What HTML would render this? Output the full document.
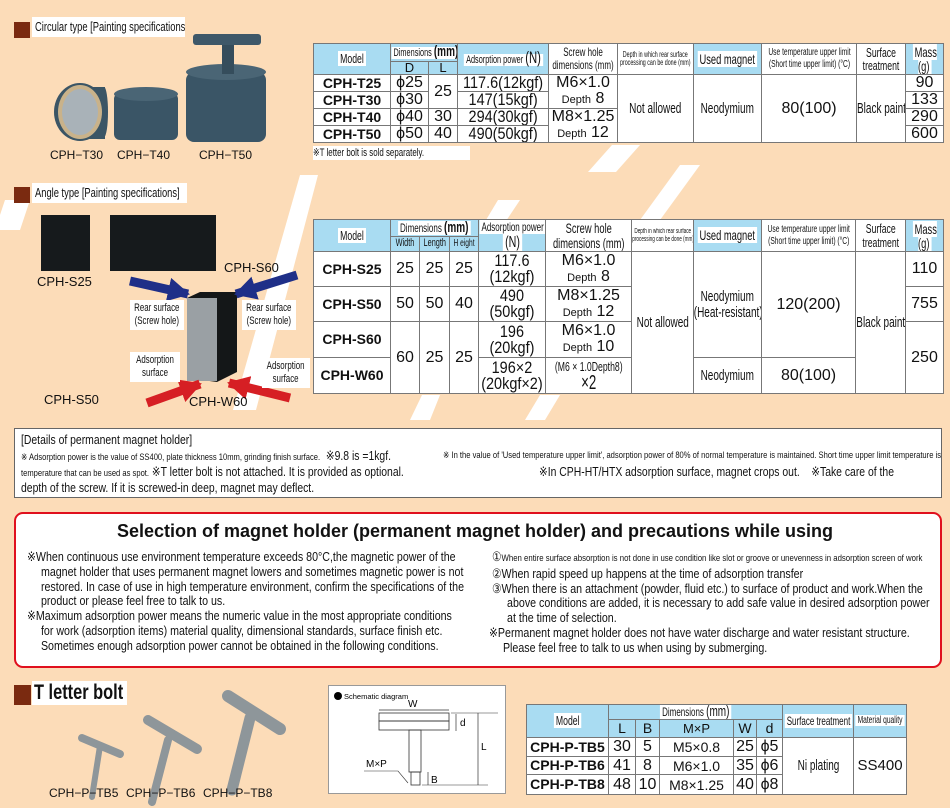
<!DOCTYPE html>
<html><head><meta charset="utf-8">
<style>
*{margin:0;padding:0;box-sizing:border-box}
body{width:950px;height:808px;background:#fcdcb8;position:relative;overflow:hidden;font-family:"Liberation Sans",sans-serif;color:#111}
.a{position:absolute;white-space:nowrap}
.sq{position:absolute;width:16px;height:16px;background:#7a2a10}
.lbl{position:absolute;background:#fff;height:20px;overflow:hidden}
.lbl span{position:absolute;left:3px;top:2px;font-size:13px;line-height:16px;white-space:nowrap;transform:scaleX(.72);transform-origin:0 0}
table{position:absolute;border-collapse:collapse;table-layout:fixed;background:#fff}
td{border:1px solid #777;text-align:center;vertical-align:middle;padding:0;white-space:nowrap;overflow:hidden;line-height:1.05}
td.h{background:#a9dcf2;font-size:11px}
.q{display:block;width:150%;margin-left:-25%;transform:scaleX(.6667)}
.r{display:block;width:118%;margin-left:-9%;transform:scaleX(.85);font-size:17px;line-height:16px}
.w{background:#fff;padding:0 3px}
.m{font-weight:bold;font-size:14px}
.n{font-size:16px;line-height:16px}
.cap{position:absolute;font-size:12px;white-space:nowrap}
.wl{position:absolute;background:#fff;text-align:center;overflow:hidden}
.wl span{display:block;font-size:11px;line-height:13px;width:140%;margin-left:-20%;transform:scaleX(.72)}
.sx{position:absolute;white-space:nowrap;transform-origin:0 0}
</style></head><body>
<svg class="a" style="left:0;top:0" width="950" height="808">
<defs>
<marker id="hb" markerUnits="userSpaceOnUse" markerWidth="24" markerHeight="24" refX="20" refY="12" orient="auto"><polygon points="0,0 22,12 0,24" fill="#1f2f88"/></marker>
<marker id="hr" markerUnits="userSpaceOnUse" markerWidth="24" markerHeight="24" refX="20" refY="12" orient="auto"><polygon points="0,0 22,12 0,24" fill="#d61f24"/></marker>
</defs>
<g fill="#fff">
<polygon points="318,175 300,175 233,410 256,410"/>
<polygon points="520,200 498,200 480,230 500,230"/>
<polygon points="640,145 612,145 588,172 616,172"/>
<polygon points="440,395 422,395 410,420 430,420"/>
<polygon points="700,165 680,165 640,220 660,220"/>
<polygon points="560,395 540,395 525,420 545,420"/>
<polygon points="30,200 5,200 0,215 0,230 20,230"/>
</g>
<ellipse cx="80" cy="112" rx="26" ry="29" fill="#3b5565"/>
<rect x="80" y="87" width="25" height="52" fill="#3b5565"/>
<ellipse cx="104" cy="112" rx="4" ry="25" fill="#3b5565"/>
<ellipse cx="80" cy="112" rx="22" ry="27" fill="#c9b28a"/>
<ellipse cx="80" cy="112" rx="18" ry="23" fill="#a9b2b8"/>
<rect x="114" y="93" width="64" height="47" rx="6" fill="#3a5566"/>
<ellipse cx="146" cy="94" rx="32" ry="7" fill="#4a6575"/>
<rect x="186" y="72" width="80" height="70" rx="8" fill="#3a5566"/>
<ellipse cx="226" cy="72" rx="40" ry="8" fill="#4a6575"/>
<rect x="222" y="42" width="12" height="32" fill="#354d5c"/>
<rect x="193" y="34" width="68" height="11" rx="3" fill="#3e5869"/>
<rect x="41" y="215" width="49" height="56" fill="#161a1c"/>
<rect x="110" y="215" width="106" height="56" fill="#161a1c"/>
<polygon points="187,298 200,292 237,292 237,372 217,382 187,378" fill="#141718"/>
<rect x="187" y="298" width="30" height="83" fill="#9aa0a4"/>
<line x1="130" y1="281" x2="188" y2="294" stroke="#1f2f88" stroke-width="9" marker-end="url(#hb)"/>
<line x1="297" y1="275" x2="236" y2="294" stroke="#1f2f88" stroke-width="9" marker-end="url(#hb)"/>
<line x1="147" y1="403" x2="200" y2="384" stroke="#d61f24" stroke-width="9" marker-end="url(#hr)"/>
<line x1="290" y1="398" x2="229" y2="383" stroke="#d61f24" stroke-width="9" marker-end="url(#hr)"/>
<g stroke-linecap="round" stroke="#8e969a">
<line x1="82" y1="738" x2="120" y2="754" stroke-width="8"/>
<line x1="100" y1="746" x2="92" y2="797" stroke-width="6"/>
<line x1="148" y1="720" x2="197" y2="749" stroke-width="10"/>
<line x1="168" y1="740" x2="152" y2="802" stroke-width="8"/>
<line x1="228" y1="696" x2="280" y2="729" stroke-width="12"/>
<line x1="250" y1="718" x2="232" y2="790" stroke-width="11"/>
</g>
</svg>

<div class="sq" style="left:14px;top:22px"></div>
<div class="lbl" style="left:32px;top:17px;width:153px"><span>Circular type [Painting specifications]</span></div>
<div class="cap" style="left:50px;top:148px">CPH−T30</div>
<div class="cap" style="left:117px;top:148px">CPH−T40</div>
<div class="cap" style="left:199px;top:148px">CPH−T50</div>

<div class="sq" style="left:14px;top:187px"></div>
<div class="lbl" style="left:32px;top:183px;width:155px"><span>Angle type [Painting specifications]</span></div>
<div class="cap" style="left:37px;top:274px;font-size:13px">CPH-S25</div>
<div class="cap" style="left:224px;top:260px;font-size:13px">CPH-S60</div>
<div class="cap" style="left:44px;top:392px;font-size:13px">CPH-S50</div>
<div class="cap" style="left:189px;top:394px;font-size:13px">CPH-W60</div>
<div class="wl" style="left:130px;top:300px;width:54px;height:30px;padding-top:2px"><span>Rear surface<br>(Screw hole)</span></div>
<div class="wl" style="left:242px;top:300px;width:54px;height:30px;padding-top:2px"><span>Rear surface<br>(Screw hole)</span></div>
<div class="wl" style="left:130px;top:352px;width:50px;height:30px;padding-top:2px"><span>Adsorption<br>surface</span></div>
<div class="wl" style="left:262px;top:358px;width:48px;height:30px;padding-top:2px"><span>Adsorption<br>surface</span></div>

<!-- Table 1 -->
<table style="left:313px;top:43px;width:630px">
<colgroup><col style="width:77px"><col style="width:38px"><col style="width:29px"><col style="width:91px"><col style="width:69px"><col style="width:76px"><col style="width:68px"><col style="width:95px"><col style="width:49px"><col style="width:38px"></colgroup>
<tr style="height:18px"><td class="h" rowspan="2" style="font-size:13px"><span class="q"><span class="w">Model</span></span></td><td class="h" colspan="2"><span class="q" style="font-size:11px;line-height:14px"><span class="w">Dimensions <b style="font-size:15px">(mm)</b></span></span></td><td class="h" rowspan="2"><span class="q" style="font-size:11px;line-height:16px"><span class="w">Adsorption power <span style="font-size:17px">(N)</span></span></span></td><td class="h" rowspan="2" style="background:#fff"><span class="q" style="font-size:12px;line-height:13px">Screw hole<br>dimensions (mm)</span></td><td class="h" rowspan="2" style="background:#fff"><span class="q" style="font-size:8px">Depth in which rear surface<br>processing can be done (mm)</span></td><td class="h" rowspan="2"><span class="q" style="font-size:14px"><span class="w">Used magnet</span></span></td><td class="h" rowspan="2" style="background:#fff"><span class="q" style="font-size:10px;line-height:12px">Use temperature upper limit<br>(Short time upper limit) (°C)</span></td><td class="h" rowspan="2" style="background:#fff"><span class="q" style="font-size:13px;line-height:13px">Surface<br>treatment</span></td><td class="h" rowspan="2"><span class="q" style="font-size:14px;line-height:14px"><span class="w">Mass<br>(g)</span></span></td></tr>
<tr style="height:13px"><td class="h" style="font-size:13px;line-height:12px">D</td><td class="h" style="font-size:13px;line-height:12px">L</td></tr>
<tr style="height:17px"><td class="m">CPH-T25</td><td class="n">ϕ25</td><td class="n" rowspan="2">25</td><td><span class="r">117.6(12kgf)</span></td><td class="n" rowspan="2" style="line-height:16px">M6×1.0<br><span style="font-size:11px">Depth</span> 8</td><td rowspan="4"><span class="q" style="font-size:15px">Not allowed</span></td><td rowspan="4"><span class="q" style="font-size:15px">Neodymium</span></td><td class="n" rowspan="4">80(100)</td><td rowspan="4"><span class="q" style="font-size:15px">Black paint</span></td><td class="n">90</td></tr>
<tr style="height:17px"><td class="m">CPH-T30</td><td class="n">ϕ30</td><td><span class="r">147(15kgf)</span></td><td class="n">133</td></tr>
<tr style="height:17px"><td class="m">CPH-T40</td><td class="n">ϕ40</td><td class="n">30</td><td><span class="r">294(30kgf)</span></td><td class="n" rowspan="2" style="line-height:16px">M8×1.25<br><span style="font-size:11px">Depth</span> 12</td><td class="n">290</td></tr>
<tr style="height:17px"><td class="m">CPH-T50</td><td class="n">ϕ50</td><td class="n">40</td><td><span class="r">490(50kgf)</span></td><td class="n">600</td></tr>
</table>
<div class="a" style="left:313px;top:146px;width:157px;height:14px;background:#fff;overflow:hidden"><span class="sx" style="left:0;top:0;font-size:11px;transform:scaleX(.72)">※T letter bolt is sold separately.</span></div>

<!-- Table 2 -->
<table style="left:313px;top:219px;width:630px">
<colgroup><col style="width:77px"><col style="width:29px"><col style="width:30px"><col style="width:29px"><col style="width:67px"><col style="width:86px"><col style="width:62px"><col style="width:68px"><col style="width:94px"><col style="width:50px"><col style="width:38px"></colgroup>
<tr style="height:16px"><td class="h" rowspan="2" style="font-size:13px"><span class="q"><span class="w">Model</span></span></td><td class="h" colspan="3"><span class="q" style="font-size:12px;line-height:14px"><span class="w">Dimensions <b style="font-size:15px">(mm)</b></span></span></td><td class="h" rowspan="2"><span class="q" style="font-size:12px;line-height:15px"><span class="w">Adsorption power</span><br><span class="w" style="font-size:16px">(N)</span></span></td><td class="h" rowspan="2" style="background:#fff"><span class="q" style="font-size:14px;line-height:15px">Screw hole<br>dimensions (mm)</span></td><td class="h" rowspan="2" style="background:#fff"><span class="q" style="font-size:7px">Depth in which rear surface<br>processing can be done (mm)</span></td><td class="h" rowspan="2"><span class="q" style="font-size:14px"><span class="w">Used magnet</span></span></td><td class="h" rowspan="2" style="background:#fff"><span class="q" style="font-size:10px;line-height:12px">Use temperature upper limit<br>(Short time upper limit) (°C)</span></td><td class="h" rowspan="2" style="background:#fff"><span class="q" style="font-size:13px;line-height:14px">Surface<br>treatment</span></td><td class="h" rowspan="2"><span class="q" style="font-size:14px;line-height:14px"><span class="w">Mass<br>(g)</span></span></td></tr>
<tr style="height:15px"><td class="h"><span class="q" style="font-size:11px;line-height:13px">Width</span></td><td class="h"><span class="q" style="font-size:11px;line-height:13px">Length</span></td><td class="h"><span class="q" style="font-size:10px;line-height:13px">H eight</span></td></tr>
<tr style="height:35px"><td class="m">CPH-S25</td><td class="n">25</td><td class="n">25</td><td class="n">25</td><td><span class="r">117.6<br>(12kgf)</span></td><td class="n">M6×1.0<br><span style="font-size:11px">Depth</span> 8</td><td rowspan="4"><span class="q" style="font-size:15px">Not allowed</span></td><td rowspan="3"><span class="q" style="font-size:15px">Neodymium<br>(Heat-resistant)</span></td><td class="n" rowspan="3">120(200)</td><td rowspan="4"><span class="q" style="font-size:15px">Black paint</span></td><td class="n">110</td></tr>
<tr style="height:35px"><td class="m">CPH-S50</td><td class="n">50</td><td class="n">50</td><td class="n">40</td><td><span class="r">490<br>(50kgf)</span></td><td class="n">M8×1.25<br><span style="font-size:11px">Depth</span> 12</td><td class="n">755</td></tr>
<tr style="height:36px"><td class="m">CPH-S60</td><td class="n" rowspan="2">60</td><td class="n" rowspan="2">25</td><td class="n" rowspan="2">25</td><td><span class="r">196<br>(20kgf)</span></td><td class="n">M6×1.0<br><span style="font-size:11px">Depth</span> 10</td><td class="n" rowspan="2">250</td></tr>
<tr style="height:36px"><td class="m">CPH-W60</td><td><span class="r">196×2<br>(20kgf×2)</span></td><td style="line-height:16px"><span class="q" style="font-size:13px;line-height:16px">(M6 × 1.0Depth8)<br><span style="font-size:20px">×2</span></span></td><td><span class="q" style="font-size:15px">Neodymium</span></td><td class="n">80(100)</td></tr>
</table>

<!-- Details -->
<div class="a" style="left:14px;top:428px;width:928px;height:70px;background:#fff;border:1px solid #666;overflow:hidden">
<span class="sx" style="left:6px;top:3px;font-size:13px;transform:scaleX(.8)">[Details of permanent magnet holder]</span>
<span class="sx" style="left:6px;top:19px;font-size:13px;transform:scaleX(.8)"><span style="font-size:9.5px">※ Adsorption power is the value of SS400, plate thickness 10mm, grinding finish surface.</span>&nbsp; ※9.8 is =1kgf.</span>
<span class="sx" style="left:428px;top:21px;font-size:9.5px;transform:scaleX(.8)">※ In the value of 'Used temperature upper limit', adsorption power of 80% of normal temperature is maintained. Short time upper limit temperature is the</span>
<span class="sx" style="left:6px;top:35px;font-size:13px;transform:scaleX(.8)"><span style="font-size:9.5px">temperature that can be used as spot.</span> ※T letter bolt is not attached. It is provided as optional.</span>
<span class="sx" style="left:524px;top:35px;font-size:13px;transform:scaleX(.8)">※In CPH-HT/HTX adsorption surface, magnet crops out.&nbsp;&nbsp;&nbsp;&nbsp;※Take care of the</span>
<span class="sx" style="left:6px;top:51px;font-size:13px;transform:scaleX(.8)">depth of the screw. If it is screwed-in deep, magnet may deflect.</span>
</div>

<!-- Red box -->
<div class="a" style="left:14px;top:512px;width:928px;height:156px;background:#fff;border:2px solid #e0101e;border-radius:9px"></div>
<div class="a" style="left:0;width:950px;top:521px;text-align:center;font-weight:bold;font-size:18px">Selection of magnet holder (permanent magnet holder) and precautions while using</div>
<div class="sx" style="left:27px;top:550px;font-size:13px;line-height:14.8px;transform:scaleX(.82)">
※When continuous use environment temperature exceeds 80°C,the magnetic power of the<br>
<span style="padding-left:17px">magnet holder that uses permanent magnet lowers and sometimes magnetic power is not</span><br>
<span style="padding-left:17px">restored. In case of use in high temperature environment, confirm the specifications of the</span><br>
<span style="padding-left:17px">product or please feel free to talk to us.</span><br>
※Maximum adsorption power means the numeric value in the most appropriate conditions<br>
<span style="padding-left:17px">for work (adsorption items) material quality, dimensional standards, surface finish etc.</span><br>
<span style="padding-left:17px">Sometimes enough adsorption power cannot be obtained in the following conditions.</span></div>
<div class="sx" style="left:489px;top:550px;font-size:13px;line-height:14.8px;transform:scaleX(.82)">
&nbsp;①<span style="font-size:9.5px">When entire surface absorption is not done in use condition like slot or groove or unevenness in adsorption screen of work</span><br>
&nbsp;②When rapid speed up happens at the time of adsorption transfer<br>
&nbsp;③When there is an attachment (powder, fluid etc.) to surface of product and work.When the<br>
<span style="padding-left:22px">above conditions are added, it is necessary to add safe value in desired adsorption power</span><br>
<span style="padding-left:22px">at the time of selection.</span><br>
※Permanent magnet holder does not have water discharge and water resistant structure.<br>
<span style="padding-left:17px">Please feel free to talk to us when using by submerging.</span></div>

<!-- T letter bolt -->
<div class="sq" style="left:14px;top:685px;height:20px;width:17px"></div>
<div class="a" style="left:32px;top:681px;background:#fff;width:95px;height:24px;overflow:hidden"><span class="sx" style="left:2px;top:0;font-size:21px;font-weight:bold;line-height:24px;transform:scaleX(.78)">T letter bolt</span></div>
<div class="cap" style="left:49px;top:786px">CPH−P−TB5</div>
<div class="cap" style="left:126px;top:786px">CPH−P−TB6</div>
<div class="cap" style="left:203px;top:786px">CPH−P−TB8</div>

<div class="a" style="left:328px;top:685px;width:178px;height:109px;background:#fff;border:1px solid #999"></div>
<svg class="a" style="left:328px;top:685px" width="178" height="109" font-family="Liberation Sans" font-size="10">
<circle cx="10" cy="11" r="4" fill="#000"/>
<text x="16" y="14" font-size="7.5">Schematic diagram</text>
<text x="80" y="22" font-size="10">W</text>
<line x1="51" y1="25" x2="121" y2="25" stroke="#333" stroke-width=".7"/>
<rect x="51" y="28" width="70" height="8" fill="none" stroke="#333" stroke-width=".8"/>
<rect x="51" y="36" width="70" height="9" fill="none" stroke="#333" stroke-width=".8"/>
<rect x="81" y="45" width="12" height="42" fill="none" stroke="#333" stroke-width=".8"/>
<rect x="83" y="87" width="9" height="13" fill="none" stroke="#333" stroke-width=".8"/>
<line x1="128" y1="29" x2="128" y2="46" stroke="#333" stroke-width=".7"/>
<text x="132" y="41">d</text>
<line x1="123" y1="28" x2="170" y2="28" stroke="#333" stroke-width=".6"/>
<line x1="150" y1="28" x2="150" y2="100" stroke="#333" stroke-width=".7"/>
<text x="150" y="65" dx="3" font-size="10">L</text>
<line x1="94" y1="100" x2="160" y2="100" stroke="#333" stroke-width=".6"/>
<line x1="100" y1="87" x2="100" y2="100" stroke="#333" stroke-width=".7"/>
<text x="103" y="98">B</text>
<text x="38" y="82" font-size="10">M×P</text>
<polyline points="36,86 70,86 80,98" fill="none" stroke="#333" stroke-width=".6"/>
</svg>

<table style="left:526px;top:704px;width:380px">
<colgroup><col style="width:82px"><col style="width:27px"><col style="width:24px"><col style="width:74px"><col style="width:23px"><col style="width:26px"><col style="width:71px"><col style="width:53px"></colgroup>
<tr style="height:15px"><td class="h" rowspan="2" style="font-size:13px"><span class="q"><span class="w">Model</span></span></td><td class="h" colspan="5"><span class="q" style="font-size:12px;line-height:14px"><span class="w">Dimensions <span style="font-size:15px">(mm)</span></span></span></td><td class="h" rowspan="2"><span class="q" style="font-size:12px"><span class="w">Surface treatment</span></span></td><td class="h" rowspan="2"><span class="q" style="font-size:10px"><span class="w">Material quality</span></span></td></tr>
<tr style="height:18px"><td class="h" style="font-size:14px">L</td><td class="h" style="font-size:14px">B</td><td class="h" style="font-size:13px">M×P</td><td class="h" style="font-size:14px">W</td><td class="h" style="font-size:14px">d</td></tr>
<tr style="height:19px"><td class="m">CPH-P-TB5</td><td class="n">30</td><td class="n">5</td><td class="n" style="font-size:14px">M5×0.8</td><td class="n">25</td><td class="n">ϕ5</td><td rowspan="3"><span class="q" style="font-size:15px">Ni plating</span></td><td class="n" rowspan="3" style="font-size:15px">SS400</td></tr>
<tr style="height:18px"><td class="m">CPH-P-TB6</td><td class="n">41</td><td class="n">8</td><td class="n" style="font-size:14px">M6×1.0</td><td class="n">35</td><td class="n">ϕ6</td></tr>
<tr style="height:20px"><td class="m">CPH-P-TB8</td><td class="n">48</td><td class="n">10</td><td class="n" style="font-size:14px">M8×1.25</td><td class="n">40</td><td class="n">ϕ8</td></tr>
</table>
</body></html>
